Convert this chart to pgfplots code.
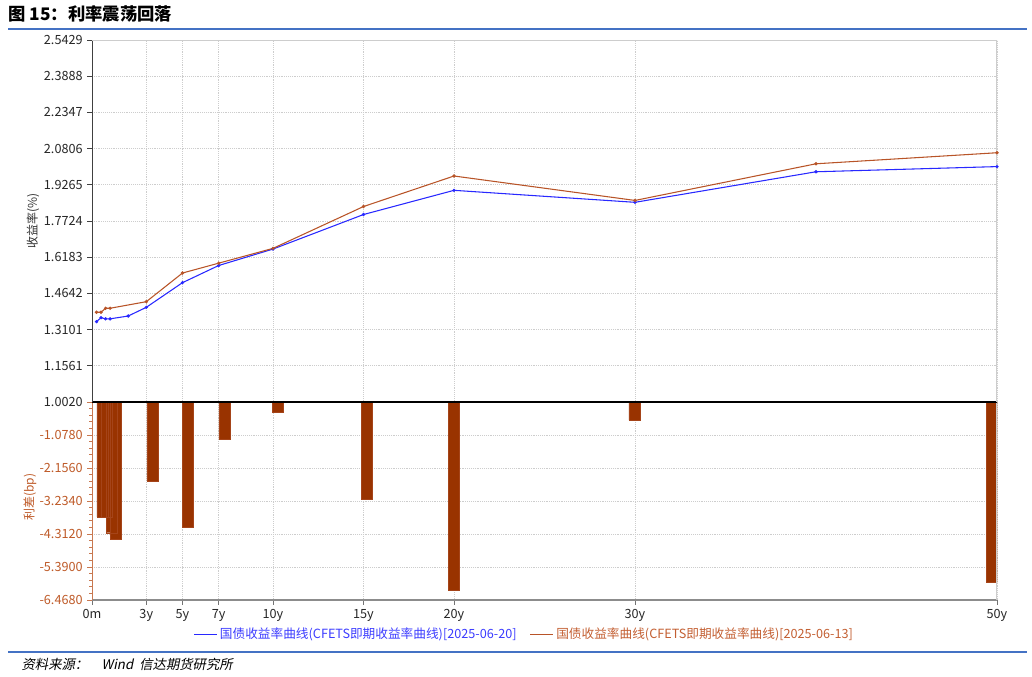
\documentclass[border=0pt]{standalone}
\usepackage{pgfplots}
\pgfplotsset{compat=1.18}
\usepackage{fontspec}
\setmainfont{Noto Sans CJK SC}
\newfontfamily\cjkit{Noto Sans CJK SC}[FakeSlant=0.2]
\definecolor{lblue}{RGB}{40,40,255}
\definecolor{lbrown}{RGB}{184,84,40}
\definecolor{barfill}{RGB}{153,51,0}
\definecolor{baredge}{RGB}{165,68,25}
\definecolor{rulecol}{RGB}{68,114,196}
\definecolor{axbrown}{RGB}{200,120,80}
\definecolor{labbrown}{RGB}{190,90,40}
\definecolor{gridc}{RGB}{205,205,205}
\definecolor{legblue}{RGB}{60,60,255}
\definecolor{legbrown}{RGB}{195,95,50}
\begin{document}
\begin{tikzpicture}
\useasboundingbox (0,0) rectangle (774pt,-507.75pt);
% title
\node[anchor=west, inner sep=0pt, font=\fontsize{13}{15}\selectfont\bfseries] at (6pt,-10.2pt) {图 15：利率震荡回落};
\draw[rulecol, line width=1.5pt] (6pt,-21.9pt) -- (770pt,-21.9pt);
% footer
\draw[rulecol, line width=1.2pt] (6pt,-489pt) -- (770pt,-489pt);
\node[anchor=west, inner sep=0pt, font=\cjkit\fontsize{10}{12}\selectfont] at (16pt,-498pt) {资料来源：\quad Wind\ \ 信达期货研究所};
% axis titles
\node[rotate=90, font=\fontsize{9}{11}\selectfont, text=black!80] at (24.75pt,-165.75pt) {收益率(\%)};
\node[rotate=90, font=\fontsize{9}{11}\selectfont, text=labbrown] at (22.5pt,-372.75pt) {利差(bp)};

% upper axis: yield curves
\begin{axis}[
  at={(69pt,-30pt)}, anchor=north west,
  scale only axis, width=678.75pt, height=271.5pt,
  xmin=0, xmax=50, ymin=1.0020, ymax=2.5429,
  axis x line*=bottom, axis y line*=left, axis line style={-},
  x axis line style={black, line width=1.1pt},
  y axis line style={black!75, line width=0.6pt},
  xtick={0,3,5,7,10,15,20,30,50}, xticklabels={},
  x tick style={draw=none},
  ytick={1.0020,1.1561,1.3101,1.4642,1.6183,1.7724,1.9265,2.0806,2.2347,2.3888,2.5429},
  yticklabels={1.0020,1.1561,1.3101,1.4642,1.6183,1.7724,1.9265,2.0806,2.2347,2.3888,2.5429},
  minor y tick num=4,
  xmajorgrids, ymajorgrids,
  grid style={densely dotted, gridc, line width=0.6pt},
  tick align=outside, major tick length=3.5pt, minor tick length=2pt,
  y tick style={black!75, line width=0.5pt},
  tick label style={font=\fontsize{9.5}{11}\selectfont, text=black!85},
  legend columns=2,
  legend cell align=left,
  legend style={at={(0.478,-0.641)}, anchor=center, draw=none, fill=none,
    font=\fontsize{9.5}{11}\selectfont,
    /tikz/every even column/.append style={column sep=8pt}},
  legend image code/.code={\draw[#1] (0pt,0pt) -- (17pt,0pt);},
]
\addplot[lblue, line width=0.8pt, mark=*, mark size=0.8pt] coordinates {
 (0.25,1.344) (0.5,1.361) (0.75,1.356) (1,1.356) (2,1.368) (3,1.405) (5,1.510)
 (7,1.583) (10,1.653) (15,1.800) (20,1.903) (30,1.852) (40,1.982) (50,2.004)};
\addlegendentry{\textcolor{legblue}{国债收益率曲线(CFETS即期收益率曲线)[2025-06-20]}}
\addplot[lbrown, line width=0.8pt, mark=*, mark size=0.8pt] coordinates {
 (0.25,1.384) (0.5,1.384) (0.75,1.401) (1,1.401) (3,1.429) (5,1.551)
 (7,1.593) (10,1.656) (15,1.834) (20,1.964) (30,1.860) (40,2.016) (50,2.063)};
\addlegendentry{\textcolor{legbrown}{国债收益率曲线(CFETS即期收益率曲线)[2025-06-13]}}
\draw[gridc, line width=0.8pt] (rel axis cs:0,1) -- (rel axis cs:1,1) -- (rel axis cs:1,0);
\end{axis}

% lower axis: spread bars
\begin{axis}[
  at={(69pt,-301.5pt)}, anchor=north west,
  scale only axis, width=678.75pt, height=148.5pt,
  xmin=0, xmax=50, ymin=-6.468, ymax=0,
  axis x line*=bottom, axis y line*=left, axis line style={-},
  x axis line style={black!45, line width=0.9pt},
  y axis line style={axbrown, line width=0.6pt},
  xtick={0,3,5,7,10,15,20,30,50},
  xticklabels={0m,3y,5y,7y,10y,15y,20y,30y,50y},
  ytick={-6.468,-5.390,-4.312,-3.234,-2.156,-1.078,0},
  yticklabels={-6.4680,-5.3900,-4.3120,-3.2340,-2.1560,-1.0780,{}},
  minor y tick num=4,
  xmajorgrids, ymajorgrids,
  grid style={densely dotted, gridc, line width=0.6pt},
  tick align=outside, major tick length=3.5pt, minor tick length=2pt,
  y tick style={axbrown, line width=0.5pt},
  x tick style={black!55, line width=0.5pt},
  tick label style={font=\fontsize{9.5}{11}\selectfont},
  y tick label style={text=labbrown},
  x tick label style={text=black!85},
]
\addplot[ybar, bar width=0.608, fill=barfill, draw=baredge, line width=0.3pt] coordinates {
 (0.58,-3.75) (0.83,-3.75) (1.08,-4.27) (1.33,-4.48) (3.33,-2.58) (5.30,-4.09)
 (7.32,-1.21) (10.25,-0.33) (15.2,-3.17) (20.0,-6.14) (29.97,-0.59) (49.7,-5.88)};
\draw[gridc, line width=0.8pt] (rel axis cs:1,0) -- (rel axis cs:1,1);
\draw[black, line width=1.1pt] (rel axis cs:0,1) -- (rel axis cs:1,1);
\end{axis}
\end{tikzpicture}
\end{document}
